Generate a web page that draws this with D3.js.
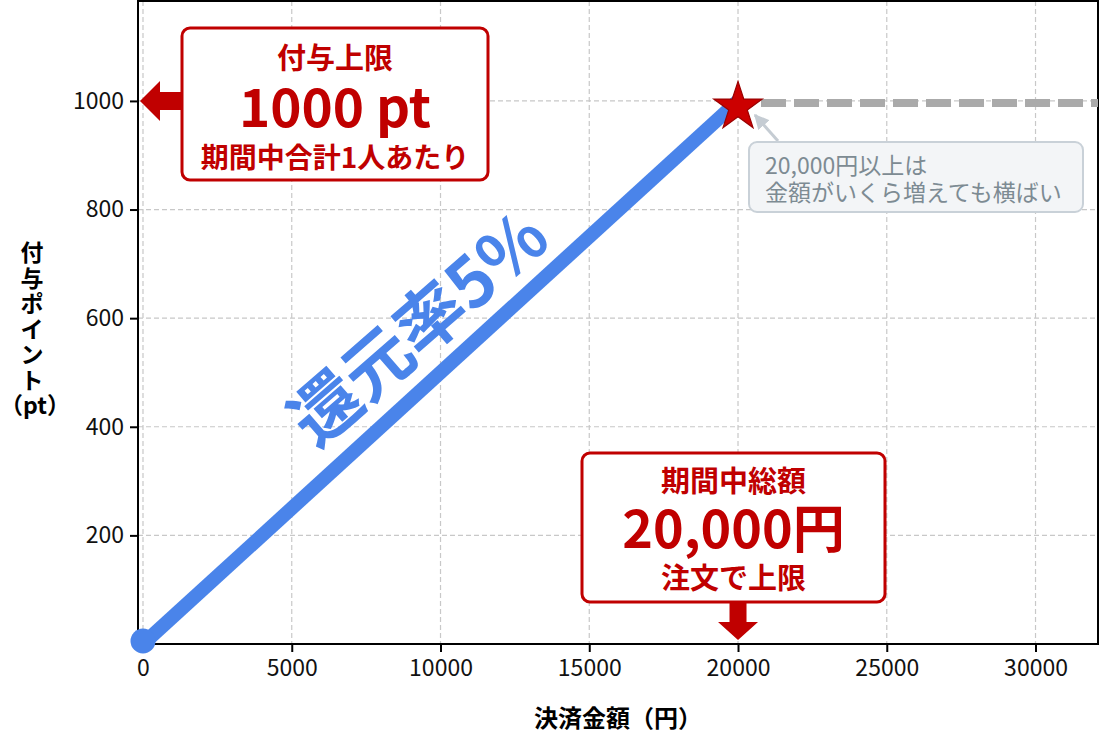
<!DOCTYPE html>
<html>
<head>
<meta charset="utf-8">
<script src="https://cdn.jsdelivr.net/npm/d3@7/dist/d3.min.js"></script>
<style>
  body { margin: 0; background: #fff; }
  text { font-family: "Noto Sans CJK JP", "Noto Sans", sans-serif; }
</style>
</head>
<body>
<div id="chart"></div>
<script>
// data
const amounts = [0, 20000];
const points = [0, 1000];
const capAmounts = [20000, 32100];
const capPoints = [1000, 1000];
const xTicks = [0, 5000, 10000, 15000, 20000, 25000, 30000];
const yTicks = [200, 400, 600, 800, 1000];
const capBoxLines = ["付与上限", "1000 pt", "期間中合計1人あたり"];
const totalBoxLines = ["期間中総額", "20,000円", "注文で上限"];
const noteLines = ["20,000円以上は", "金額がいくら増えても横ばい"];
const rateLabel = "還元率5%";
const xLabel = "決済金額（円）";
const yLabelLines = ["付", "与", "ポ", "イ", "ン", "ト", "（pt）"];

const width = 1100;
const height = 733;
const margin = {top: 1, right: 2, bottom: 89, left: 138};

const red = "#c00000";
const blue = "#4a84ea";

const svg = d3.select("#chart")
    .append("svg")
        .attr("width", width)
        .attr("height", height);

const x = d3.scaleLinear()
    .domain([-168, 32100])
    .range([margin.left, width - margin.right]);

const y = d3.scaleLinear()
    .domain([0, 1184])
    .range([height - margin.bottom, margin.top]);

// clip for plot area
svg.append("clipPath").attr("id", "plot")
    .append("rect")
        .attr("x", margin.left).attr("y", margin.top)
        .attr("width", width - margin.left - margin.right)
        .attr("height", height - margin.top - margin.bottom);

// grid
const grid = svg.append("g").attr("class", "grid")
    .attr("stroke", "#c8c8c8")
    .attr("stroke-width", 1.2)
    .attr("stroke-dasharray", "5,3");

grid.selectAll("line.v")
    .data(xTicks)
    .enter().append("line")
        .attr("class", "v")
        .attr("x1", d => x(d)).attr("x2", d => x(d))
        .attr("y1", margin.top).attr("y2", height - margin.bottom);

grid.selectAll("line.h")
    .data(yTicks)
    .enter().append("line")
        .attr("class", "h")
        .attr("x1", margin.left).attr("x2", width - margin.right)
        .attr("y1", d => y(d)).attr("y2", d => y(d));

// axes
const xAxis = svg.append("g")
    .attr("transform", "translate(0," + (height - margin.bottom) + ")")
    .call(d3.axisBottom(x).tickValues(xTicks).tickSize(8).tickPadding(8).tickFormat(d3.format("d")));

const yAxis = svg.append("g")
    .attr("transform", "translate(" + margin.left + ",0)")
    .call(d3.axisLeft(y).tickValues(yTicks).tickSize(8).tickPadding(6).tickFormat(d3.format("d")));

[xAxis, yAxis].forEach(a => {
    a.select(".domain").remove();
    a.selectAll(".tick line").attr("stroke", "#000").attr("stroke-width", 2);
    a.selectAll(".tick text")
        .attr("fill", "#111")
        .style("font-size", "23px")
        .style("font-family", "'Noto Sans CJK JP', sans-serif");
});

// frame
svg.append("rect")
    .attr("x", margin.left).attr("y", margin.top)
    .attr("width", width - margin.left - margin.right)
    .attr("height", height - margin.top - margin.bottom)
    .attr("fill", "none")
    .attr("stroke", "#000")
    .attr("stroke-width", 2);

// axis labels
svg.append("text")
    .attr("x", (margin.left + width - margin.right) / 2)
    .attr("y", 716)
    .attr("text-anchor", "middle")
    .attr("dominant-baseline", "central")
    .style("font-size", "24px")
    .style("font-weight", "bold")
    .text(xLabel);

svg.append("g").selectAll("text")
    .data(yLabelLines)
    .enter().append("text")
        .attr("x", (d, i) => i === yLabelLines.length - 1 ? 35 : 32)
        .attr("y", (d, i) => 251 + i * 25.5)
        .attr("text-anchor", "middle")
        .attr("dominant-baseline", "central")
        .style("font-size", "23px")
        .style("font-weight", "bold")
        .text(d => d);

const plot = svg.append("g").attr("clip-path", "url(#plot)");

// flat part after the cap
const line = d3.line().x(d => x(d[0])).y(d => y(d[1]));

plot.append("path")
    .datum(d3.zip(capAmounts, capPoints))
    .attr("d", line)
    .attr("fill", "none")
    .attr("stroke", "#aaaaaa")
    .attr("stroke-width", 8)
    .attr("stroke-dasharray", "25,8")
    .attr("stroke-dashoffset", 10)
    .attr("transform", "translate(0,2)");

// rising part
svg.append("path")
    .datum(d3.zip(amounts, points))
    .attr("d", line)
    .attr("fill", "none")
    .attr("stroke", blue)
    .attr("stroke-width", 14);

svg.append("circle")
    .attr("cx", x(amounts[0]))
    .attr("cy", y(points[0]) - 3)
    .attr("r", 12.5)
    .attr("fill", blue);

svg.append("path")
    .attr("d", d3.symbol(d3.symbolStar, 730)())
    .attr("transform", "translate(" + x(amounts[1]) + "," + (y(points[1]) + 6) + ")")
    .attr("fill", "#cc0000")
    .attr("stroke", "#9a0000")
    .attr("stroke-width", 1.2);

// rate label along the line
svg.append("text")
    .attr("transform", "translate(415,324) rotate(-41)")
    .attr("text-anchor", "middle")
    .attr("dominant-baseline", "central")
    .attr("fill", blue)
    .style("font-size", "69px")
    .style("font-weight", "bold")
    .text(rateLabel);

// callout: point cap
const cap = {x0: 182, y0: 28, x1: 488, y1: 180};
const capY = y(1000);
svg.append("path")
    .attr("d", d3.line()([
        [margin.left + 2, capY], [160, capY - 20], [160, capY - 9], [cap.x0 + 1, capY - 9],
        [cap.x0 + 1, capY + 9], [160, capY + 9], [160, capY + 20]
    ]) + "Z")
    .attr("fill", red);

svg.append("rect")
    .attr("x", cap.x0).attr("y", cap.y0)
    .attr("width", cap.x1 - cap.x0).attr("height", cap.y1 - cap.y0)
    .attr("rx", 8)
    .attr("fill", "#fff")
    .attr("stroke", red)
    .attr("stroke-width", 3);

const capSizes = [29, 53, 28];
const capRows = [56, 104, 156];
svg.append("g").selectAll("text")
    .data(capBoxLines)
    .enter().append("text")
        .attr("x", (cap.x0 + cap.x1) / 2)
        .attr("y", (d, i) => capRows[i])
        .attr("text-anchor", "middle")
        .attr("dominant-baseline", "central")
        .attr("fill", red)
        .style("font-size", (d, i) => capSizes[i] + "px")
        .style("font-weight", "bold")
        .text(d => d);

// callout: amount cap
const tot = {x0: 582, y0: 453, x1: 885, y1: 602};
const tx = x(20000);
svg.append("path")
    .attr("d", d3.line()([
        [tx - 8.5, tot.y1 - 1], [tx + 8.5, tot.y1 - 1], [tx + 8.5, 622], [tx + 20, 622],
        [tx, y(0) - 4], [tx - 20, 622], [tx - 8.5, 622]
    ]) + "Z")
    .attr("fill", red);

svg.append("rect")
    .attr("x", tot.x0).attr("y", tot.y0)
    .attr("width", tot.x1 - tot.x0).attr("height", tot.y1 - tot.y0)
    .attr("rx", 8)
    .attr("fill", "#fff")
    .attr("stroke", red)
    .attr("stroke-width", 3);

const totSizes = [29, 52, 29];
const totRows = [479, 525, 576];
svg.append("g").selectAll("text")
    .data(totalBoxLines)
    .enter().append("text")
        .attr("x", (tot.x0 + tot.x1) / 2)
        .attr("y", (d, i) => totRows[i])
        .attr("text-anchor", "middle")
        .attr("dominant-baseline", "central")
        .attr("fill", red)
        .style("font-size", (d, i) => totSizes[i] + "px")
        .style("font-weight", "bold")
        .text(d => d);

// note about the flat part
const note = {x0: 749, y0: 142, x1: 1083, y1: 212};
svg.append("defs").append("marker")
    .attr("id", "head")
    .attr("viewBox", "0 0 10 10")
    .attr("refX", 9).attr("refY", 5)
    .attr("markerWidth", 5).attr("markerHeight", 5)
    .attr("markerUnits", "strokeWidth")
    .attr("orient", "auto")
    .append("path")
        .attr("d", "M0,0L10,5L0,10Z")
        .attr("fill", "#c5ccd3");

svg.append("line")
    .attr("x1", 778).attr("y1", 141)
    .attr("x2", 755).attr("y2", 115)
    .attr("stroke", "#c5ccd3")
    .attr("stroke-width", 3)
    .attr("marker-end", "url(#head)");

svg.append("rect")
    .attr("x", note.x0).attr("y", note.y0)
    .attr("width", note.x1 - note.x0).attr("height", note.y1 - note.y0)
    .attr("rx", 8)
    .attr("fill", "#f3f5f7")
    .attr("stroke", "#c9d1d8")
    .attr("stroke-width", 2);

svg.append("g").selectAll("text")
    .data(noteLines)
    .enter().append("text")
        .attr("x", 765)
        .attr("y", (d, i) => 164 + i * 27)
        .attr("dominant-baseline", "central")
        .attr("fill", "#7d8b93")
        .style("font-size", "23px")
        .text(d => d);
</script>
</body>
</html>
